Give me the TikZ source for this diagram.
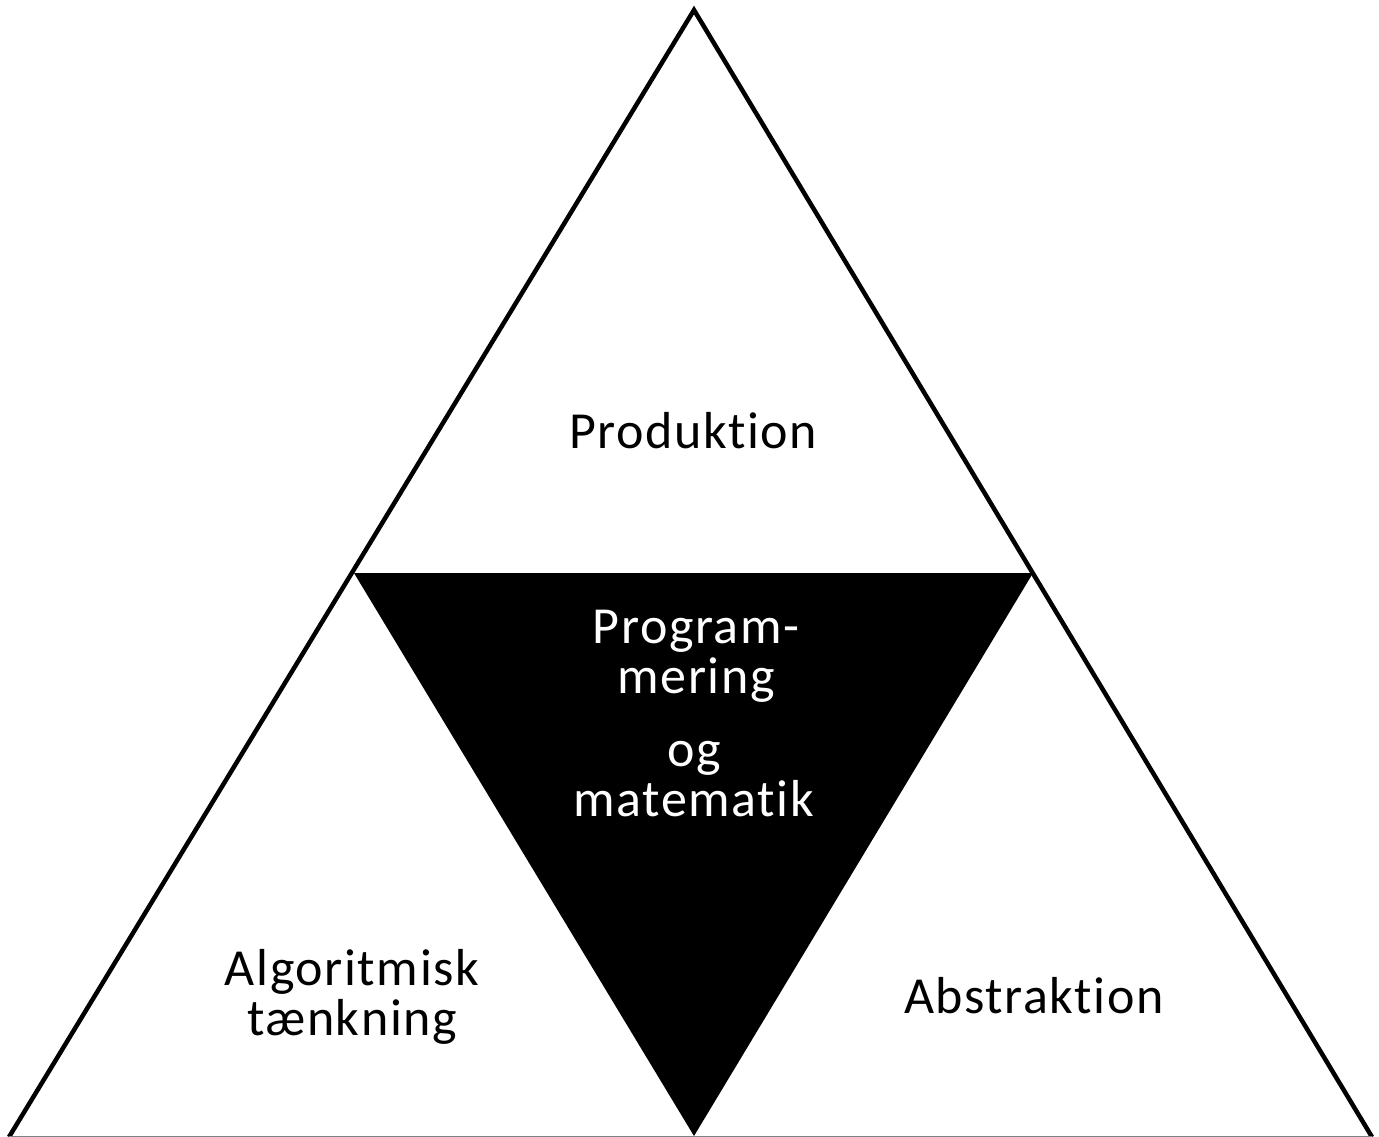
\documentclass[tikz,border=0pt]{standalone}
\usepackage{fontspec}
\setmainfont{Carlito}[Ligatures=CommonOff, LetterSpace=3]

\tikzset{
  label text/.style={font=\fontsize{52}{50}\selectfont, align=center, inner sep=0pt},
  edge line/.style={line width=4.5pt, line join=miter, line cap=butt},
}

\begin{document}
\begin{tikzpicture}[x=1pt,y=-1pt]
  \useasboundingbox (0,0) rectangle (1379,1137);
  % corners
  \coordinate (Top)   at (694,10);
  \coordinate (BotL)  at (9,1137);
  \coordinate (BotR)  at (1372,1137);
  \coordinate (MidL)  at (354,573);
  \coordinate (MidR)  at (1033,573);
  \coordinate (BotM)  at (694,1136);
  % middle triangle
  \fill[black] (MidL) -- (MidR) -- (BotM) -- cycle;
  % outer triangle
  \draw[edge line] (BotL) -- (Top) -- (BotR);
  \draw[gray, line width=2pt] (BotL) -- (BotR);
  % texts
  \node[label text] (Prod) at (693,431) {Produktion};
  \node[label text, text=white] (Prog) at (696,656) {Program-\\mering};
  \node[label text, text=white] (Mat)  at (694,779) {og\\matematik};
  \node[label text] (Algo) at (352,997) {Algoritmisk\\tænkning};
  \node[label text] (Abst) at (1034,996) {Abstraktion};
\end{tikzpicture}
\end{document}
